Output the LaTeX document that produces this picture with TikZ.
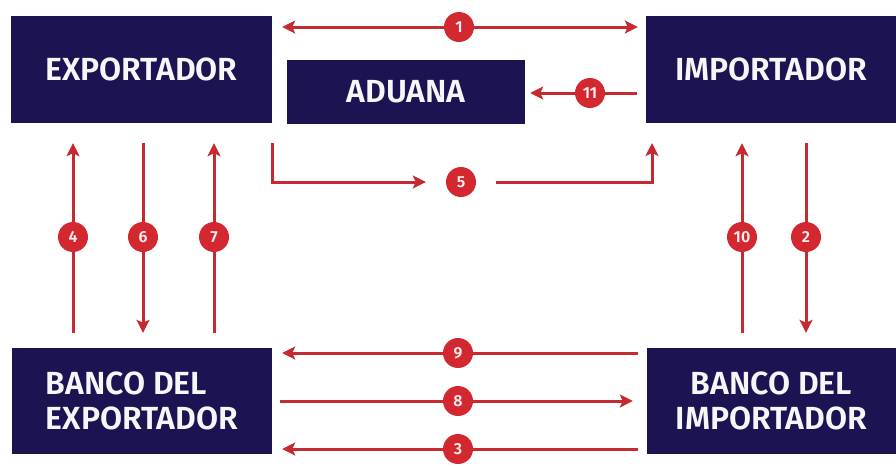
\documentclass[tikz,border=0pt]{standalone}
\usepackage{fontspec}
\setmainfont{Fira Sans}
\newfontfamily\boxfont{Fira Sans}[UprightFont={* SemiBold}]
\usetikzlibrary{arrows.meta}
\definecolor{navy}{HTML}{1C1452}
\definecolor{mark}{HTML}{D42830}
\definecolor{flow}{HTML}{C42A30}
\tikzset{
  party/.style={fill=navy, text=white!96!navy, inner sep=0pt, font=\boxfont\fontsize{32}{35}\selectfont},
  num/.style={circle, fill=mark, text=white!92!mark, minimum size=30pt, inner sep=0pt, font=\boxfont\fontsize{16}{16}\selectfont},
  ln/.style={draw=flow, line width=3pt},
  arr/.style={ln, -{Stealth[length=13pt,width=13pt,inset=3pt]}}
}
\begin{document}
\begin{tikzpicture}[x=1pt,y=-1pt]
\useasboundingbox[fill=white] (0,0) rectangle (896,467);

% parties
\node[party, minimum width=261pt, minimum height=107pt] (exp) at (141.5,69.5) {EXPORTADOR};
\node[party, minimum width=250pt, minimum height=107pt] (imp) at (771,69.5) {IMPORTADOR};
\node[party, minimum width=238pt, minimum height=64pt] (adu) at (406,92) {ADUANA};
\node[party, minimum width=260pt, minimum height=106pt, align=left] (bexp) at (142,401) {BANCO DEL\\EXPORTADOR};
\node[party, minimum width=249pt, minimum height=106pt, align=center] (bimp) at (771.5,401) {BANCO DEL\\IMPORTADOR};

% step markers
\node[num] (c1) at (459,27) {1};
\node[num] (c11) at (590,93) {11};
\node[num] (c5) at (461,182) {5};
\node[num] (c4) at (73,237) {4};
\node[num] (c6) at (143,237) {6};
\node[num] (c7) at (214,237) {7};
\node[num] (c10) at (742,237) {10};
\node[num] (c2) at (806,237) {2};
\node[num] (c9) at (458,353) {9};
\node[num] (c8) at (458,401) {8};
\node[num] (c3) at (458,449) {3};

\coordinate (s5) at (272,143);
\coordinate (e5) at (652,143);

% 1: exporter <-> importer
\draw[arr, shorten >=10pt] (c1) -- (c1 -| exp.east);
\draw[arr, shorten >=8pt] (c1) -- (c1 -| imp.west);
% 11: importer -> customs
\draw[ln, shorten >=9pt] (c11) -- (c11 -| imp.west);
\draw[arr, shorten >=5pt] (c11) -- (c11 -| adu.east);
% 5: exporter -> importer
\draw[arr, shorten >=20pt] (s5) |- (c5);
\draw[arr, shorten <=20pt] (c5) -| (e5);

% exporter side verticals
\draw[arr, shorten >=20pt] (c4) -- (c4 |- exp.south);
\draw[ln, shorten >=15pt] (c4) -- (c4 |- bexp.north);
\draw[ln, shorten >=20pt] (c6) -- (c6 |- exp.south);
\draw[arr, shorten >=15pt] (c6) -- (c6 |- bexp.north);
\draw[arr, shorten >=20pt] (c7) -- (c7 |- exp.south);
\draw[ln, shorten >=15pt] (c7) -- (c7 |- bexp.north);

% importer side verticals
\draw[arr, shorten >=20pt] (c10) -- (c10 |- imp.south);
\draw[ln, shorten >=15pt] (c10) -- (c10 |- bimp.north);
\draw[ln, shorten >=20pt] (c2) -- (c2 |- imp.south);
\draw[arr, shorten >=15pt] (c2) -- (c2 |- bimp.north);

% bank to bank
\draw[arr, shorten >=10pt] (c9) -- (c9 -| bexp.east);
\draw[ln, shorten >=9pt] (c9) -- (c9 -| bimp.west);
\draw[ln, shorten >=8pt] (c8) -- (c8 -| bexp.east);
\draw[arr, shorten >=14pt] (c8) -- (c8 -| bimp.west);
\draw[arr, shorten >=10pt] (c3) -- (c3 -| bexp.east);
\draw[ln, shorten >=9pt] (c3) -- (c3 -| bimp.west);
\end{tikzpicture}
\end{document}
